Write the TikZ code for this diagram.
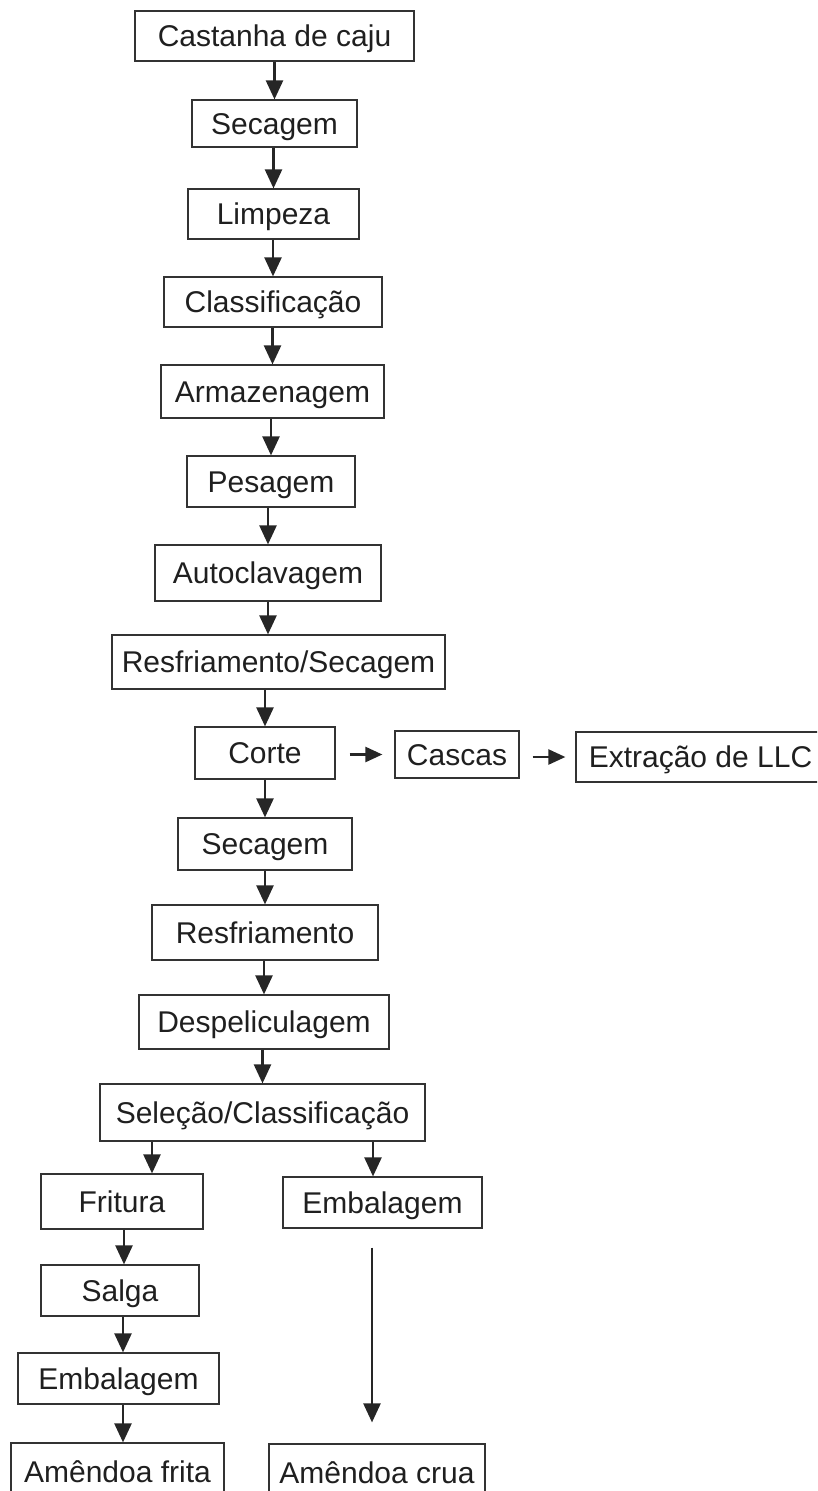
\documentclass[tikz,border=0pt]{standalone}
\usepackage{fontspec}
\setmainfont{Liberation Sans}
\usetikzlibrary{arrows.meta}

\begin{document}
\begin{tikzpicture}[x=1pt, y=-1pt,
    box/.style={rectangle, draw=black!80, line width=1.2pt, inner sep=0pt,
      text height=21.5pt, text depth=0pt, text=black!88,
      font=\fontsize{30}{36}\selectfont},
    flow/.style={-{Triangle[length=19pt,width=17pt]}, line width=2.4pt, draw=black!85},
    side/.style={-{Triangle[length=17pt,width=15pt]}, line width=2.4pt, draw=black!85}]

  \useasboundingbox (0,0) rectangle (817,1491);
  \clip (0,0) rectangle (817,1491);

  % main line
  \node[box, minimum width=279, minimum height=50] (castanha) at (274.5,36) {Castanha de caju};
  \node[box, minimum width=165, minimum height=47] (secagemA) at (274.5,123.5) {Secagem};
  \node[box, minimum width=171, minimum height=50] (limpeza) at (273.5,214) {Limpeza};
  \node[box, minimum width=218, minimum height=50] (classif) at (273,302) {Classificação};
  \node[box, minimum width=223, minimum height=53] (armaz) at (272.5,391.5) {Armazenagem};
  \node[box, minimum width=168, minimum height=51] (pesagem) at (271,481.5) {Pesagem};
  \node[box, minimum width=226, minimum height=56] (autoclav) at (268,573) {Autoclavagem};
  \node[box, minimum width=333, minimum height=54] (resfsec) at (278.5,662) {Resfriamento/Secagem};
  \node[box, minimum width=140, minimum height=52] (corte) at (265,753) {Corte};
  \node[box, minimum width=174, minimum height=52] (secagemB) at (265,844) {Secagem};
  \node[box, minimum width=226, minimum height=55] (resfr) at (265,932.5) {Resfriamento};
  \node[box, minimum width=250, minimum height=54] (despel) at (264,1022) {Despeliculagem};
  \node[box, minimum width=325, minimum height=57] (selecao) at (262.5,1112.5) {Seleção/Classificação};

  % side line
  \node[box, minimum width=124, minimum height=47] (cascas) at (457,754.5) {Cascas};
  \node[box, minimum width=249, minimum height=50] (extracao) at (700.5,757) {Extração de LLC};

  % branches
  \node[box, minimum width=162, minimum height=55] (fritura) at (122,1201.5) {Fritura};
  \node[box, minimum width=158, minimum height=51] (salga) at (120,1290.5) {Salga};
  \node[box, minimum width=201, minimum height=51] (embalL) at (118.5,1378.5) {Embalagem};
  \node[box, minimum width=213, minimum height=57] (frita) at (117.5,1471.5) {Amêndoa frita};
  \node[box, minimum width=199, minimum height=51] (embalR) at (382.5,1202.5) {Embalagem};
  \node[box, minimum width=216, minimum height=57] (crua) at (377,1472.5) {Amêndoa crua};

  \draw[flow] (castanha.south -| secagemA.north) -- (secagemA.north);
  \draw[flow] (secagemA.south -| limpeza.north) -- (limpeza.north);
  \draw[flow] (limpeza.south -| classif.north) -- (classif.north);
  \draw[flow] (classif.south -| armaz.north) -- (armaz.north);
  \draw[flow] (armaz.south -| pesagem.north) -- (pesagem.north);
  \draw[flow] (pesagem.south -| autoclav.north) -- (autoclav.north);
  \draw[flow] (autoclav.south) -- (autoclav.south |- resfsec.north);
  \draw[flow] (resfsec.south -| corte.north) -- (corte.north);
  \draw[flow] (corte.south -| secagemB.north) -- (secagemB.north);
  \draw[flow] (secagemB.south -| resfr.north) -- (resfr.north);
  \draw[flow] (resfr.south -| despel.north) -- (despel.north);
  \draw[flow] (despel.south -| selecao.north) -- (selecao.north);

  \draw[side, shorten <=14, shorten >=12] (corte.east |- cascas.west) -- (cascas.west);
  \draw[side, shorten <=13, shorten >=10] (cascas.east |- extracao.west) -- (extracao.west);

  \draw[flow] ([xshift=30]fritura.north |- selecao.south) -- ([xshift=30]fritura.north);
  \draw[flow] ([xshift=4]salga.north |- fritura.south) -- ([xshift=4]salga.north);
  \draw[flow] ([xshift=4.5]embalL.north |- salga.south) -- ([xshift=4.5]embalL.north);
  \draw[flow] ([xshift=5.5]frita.north |- embalL.south) -- ([xshift=5.5]frita.north);
  \draw[flow] ([xshift=-9.5]embalR.north |- selecao.south) -- ([xshift=-9.5]embalR.north);
  \draw[flow, shorten <=19, shorten >=21] ([xshift=-5]crua.north |- embalR.south) -- ([xshift=-5]crua.north);
\end{tikzpicture}
\end{document}
